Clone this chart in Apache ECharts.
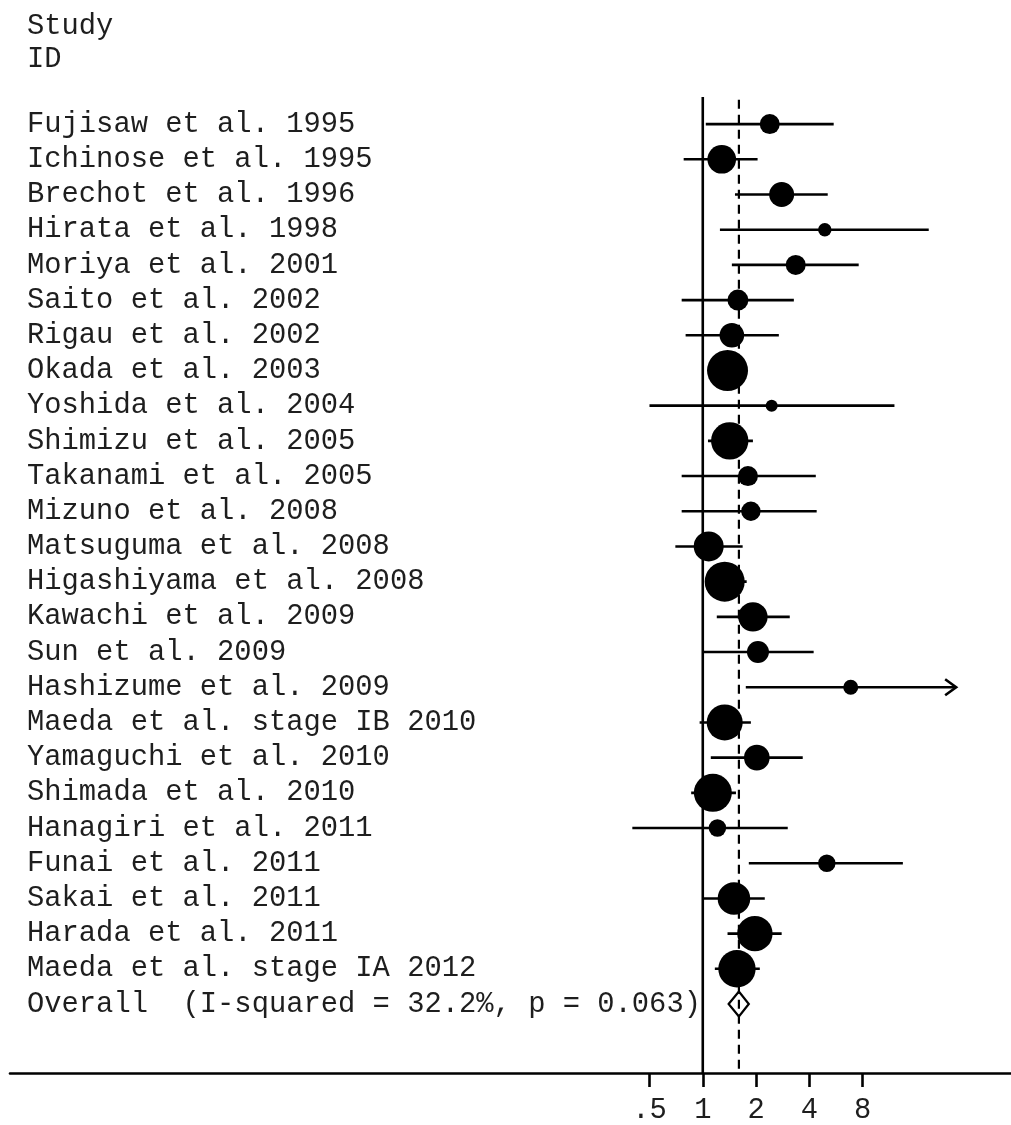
<!DOCTYPE html>
<html>
<head>
<meta charset="utf-8">
<script src="https://cdn.jsdelivr.net/npm/echarts@6/dist/echarts.min.js"></script>
<style>
  html, body { margin: 0; padding: 0; background: #fff; }
  #chart { width: 1011px; height: 1125px; }
</style>
</head>
<body>
<div id="chart"></div>
<script>
// Forest plot: odds ratios with 95% CI per study, log-scaled x axis.
const headerLines = ['Study', 'ID'];

const studies = [
  'Fujisaw et al. 1995',
  'Ichinose et al. 1995',
  'Brechot et al. 1996',
  'Hirata et al. 1998',
  'Moriya et al. 2001',
  'Saito et al. 2002',
  'Rigau et al. 2002',
  'Okada et al. 2003',
  'Yoshida et al. 2004',
  'Shimizu et al. 2005',
  'Takanami et al. 2005',
  'Mizuno et al. 2008',
  'Matsuguma et al. 2008',
  'Higashiyama et al. 2008',
  'Kawachi et al. 2009',
  'Sun et al. 2009',
  'Hashizume et al. 2009',
  'Maeda et al. stage IB 2010',
  'Yamaguchi et al. 2010',
  'Shimada et al. 2010',
  'Hanagiri et al. 2011',
  'Funai et al. 2011',
  'Sakai et al. 2011',
  'Harada et al. 2011',
  'Maeda et al. stage IA 2012'
];

const oddsRatio = [2.39, 1.28, 2.79, 4.89, 3.35, 1.58, 1.46, 1.38, 2.45, 1.42,
                   1.80, 1.87, 1.08, 1.33, 1.92, 2.05, 6.85, 1.33, 2.02, 1.14,
                   1.21, 5.02, 1.50, 1.97, 1.56];
const ciLower   = [1.04, 0.78, 1.52, 1.25, 1.46, 0.76, 0.80, 1.12, 0.50, 1.07,
                   0.76, 0.76, 0.70, 1.03, 1.20, 1.01, 1.75, 0.96, 1.11, 0.86,
                   0.40, 1.82, 1.01, 1.38, 1.17];
const ciUpper   = [5.49, 2.04, 5.08, 18.9, 7.60, 3.27, 2.69, 1.70, 12.1, 1.92,
                   4.35, 4.40, 1.68, 1.77, 3.10, 4.23, 32.0, 1.87, 3.67, 1.54,
                   3.02, 13.5, 2.24, 2.79, 2.10];
// study weights (%), shown as marker area
const weights   = [2.08, 4.27, 3.25, 0.94, 2.08, 2.29, 3.14, 8.74, 0.75, 7.28,
                   2.08, 1.96, 4.68, 8.32, 4.49, 2.52, 1.17, 6.74, 3.41, 7.51,
                   1.58, 1.58, 5.53, 6.51, 7.28];

const overallLabel = 'Overall  (I-squared = 32.2%, p = 0.063)';
const overallOR = 1.60;
const overallLower = 1.40;
const overallUpper = 1.82;

const tickValues = [0.5, 1, 2, 4, 8];
const tickLabels = ['.5', '1', '2', '4', '8'];

// ---- drawing setup ----
const FONT = '"Liberation Mono", "DejaVu Sans Mono", monospace';
const FONT_SIZE = 28.8;
const TEXT_COLOR = '#1e1e1e';
const INK = '#000';
const LW = 2.6;
const X_CLIP = 27;          // largest OR shown; wider CIs end in an arrow
const X_MIN = -13.0, X_MAX = 5.784;   // log2 units
const Y_MIN = 0.23, Y_MAX = 27.96;    // row units (row 1 = first study)
const RADIUS_UNIT = 6.93;   // marker radius per sqrt(weight)

const log2 = Math.log2;
const rowLabels = studies.concat([overallLabel]);
const overallRow = studies.length + 1;

const ciData = studies.map((s, i) => {
  const clipped = ciUpper[i] > X_CLIP;
  return [log2(ciLower[i]), log2(clipped ? X_CLIP : ciUpper[i]), i + 1, clipped ? 1 : 0];
});
const pointData = studies.map((s, i) => [log2(oddsRatio[i]), i + 1]);

const chart = echarts.init(document.getElementById('chart'), null, { renderer: 'canvas' });

chart.setOption({
  animation: false,
  backgroundColor: '#fff',
  title: headerLines.map((t, i) => ({
    text: t,
    left: 27,
    top: 11.5 + i * 33,
    padding: 0,
    textStyle: { fontFamily: FONT, fontSize: FONT_SIZE, fontWeight: 'normal', color: TEXT_COLOR }
  })),
  grid: { left: 10, right: 0, top: 97, bottom: 45 },
  xAxis: {
    type: 'value',
    min: X_MIN,
    max: X_MAX,
    axisLine: { show: true, lineStyle: { color: INK, width: LW } },
    axisTick: {
      show: true,
      length: 14,
      customValues: tickValues.map(log2),
      lineStyle: { color: INK, width: LW }
    },
    axisLabel: {
      show: true,
      margin: 23,
      customValues: tickValues.map(log2),
      formatter: v => {
        const k = tickValues.findIndex(t => Math.abs(log2(t) - v) < 1e-6);
        return k >= 0 ? tickLabels[k] : '';
      },
      fontFamily: FONT,
      fontSize: FONT_SIZE,
      color: TEXT_COLOR
    },
    splitLine: { show: false }
  },
  yAxis: {
    type: 'value',
    inverse: true,
    min: Y_MIN,
    max: Y_MAX,
    axisLine: { show: false },
    axisTick: { show: false },
    splitLine: { show: false },
    axisLabel: {
      show: true,
      inside: true,
      margin: 17,
      customValues: rowLabels.map((r, i) => i + 1),
      formatter: v => rowLabels[Math.round(v) - 1] || '',
      fontFamily: FONT,
      fontSize: FONT_SIZE,
      color: TEXT_COLOR,
      align: 'left',
      padding: [6, 0, 0, 0]
    }
  },
  series: [
    {
      // line of no effect
      type: 'line',
      silent: true,
      symbol: 'none',
      data: [[0, Y_MIN], [0, Y_MAX]],
      lineStyle: { color: INK, width: LW, type: 'solid' },
      z: 1
    },
    {
      // pooled estimate reference line
      type: 'line',
      silent: true,
      symbol: 'none',
      data: [[log2(overallOR), Y_MIN + 0.08], [log2(overallOR), Y_MAX]],
      lineStyle: { color: INK, width: LW - 0.4, type: [9, 6] },
      z: 1
    },
    {
      // confidence intervals
      type: 'custom',
      silent: true,
      data: ciData,
      encode: { x: [0, 1], y: 2 },
      renderItem: (params, api) => {
        const y = api.value(2);
        const a = api.coord([api.value(0), y]);
        const b = api.coord([api.value(1), y]);
        const children = [{
          type: 'line',
          shape: { x1: a[0], y1: a[1], x2: b[0], y2: b[1] },
          style: { stroke: INK, lineWidth: LW }
        }];
        if (api.value(3)) {
          children.push({
            type: 'polyline',
            shape: { points: [[b[0] - 11, b[1] - 8], [b[0], b[1]], [b[0] - 11, b[1] + 8]] },
            style: { stroke: INK, fill: null, lineWidth: LW }
          });
        }
        return { type: 'group', children };
      },
      z: 2
    },
    {
      // study estimates, area proportional to weight
      type: 'scatter',
      silent: true,
      data: pointData,
      symbol: 'circle',
      symbolSize: (val, p) => 2 * RADIUS_UNIT * Math.sqrt(weights[p.dataIndex]),
      itemStyle: { color: INK, opacity: 1 },
      z: 3
    },
    {
      // pooled estimate diamond
      type: 'custom',
      silent: true,
      data: [[log2(overallLower), log2(overallOR), log2(overallUpper), overallRow]],
      encode: { x: [0, 1, 2], y: 3 },
      renderItem: (params, api) => {
        const y = api.value(3);
        const l = api.coord([api.value(0), y]);
        const c = api.coord([api.value(1), y]);
        const r = api.coord([api.value(2), y]);
        const h = 12.5;
        return {
          type: 'polygon',
          shape: { points: [[l[0], l[1]], [c[0], c[1] - h], [r[0], r[1]], [c[0], c[1] + h]] },
          style: { stroke: INK, fill: null, lineWidth: LW - 0.4 }
        };
      },
      z: 4
    }
  ]
});
</script>
</body>
</html>
